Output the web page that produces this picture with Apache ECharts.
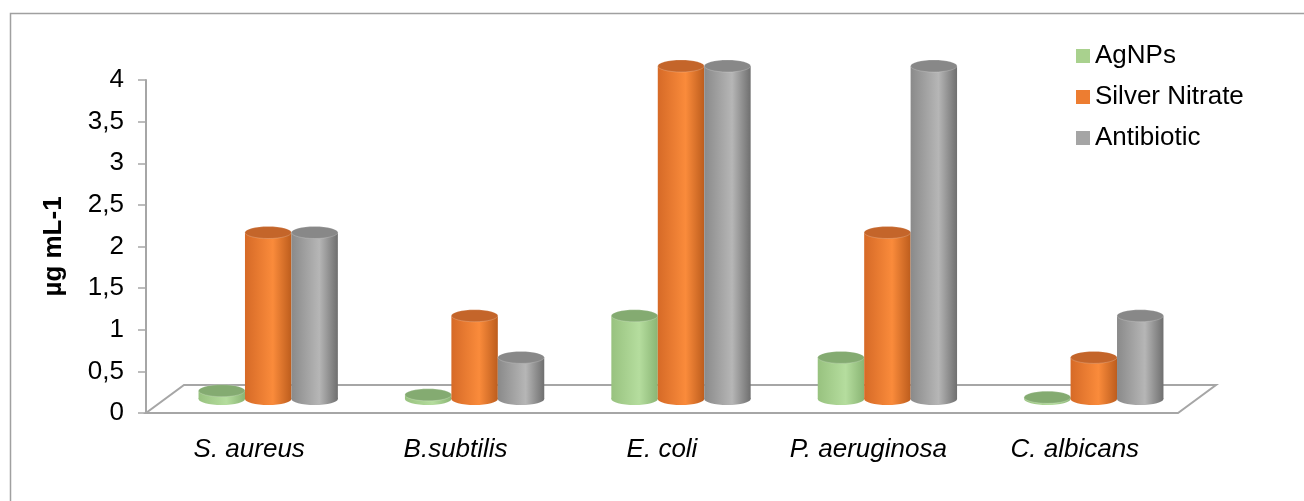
<!DOCTYPE html>
<html>
<head>
<meta charset="utf-8">
<title>MIC values</title>
<script src="https://cdn.jsdelivr.net/npm/echarts@6/dist/echarts.min.js"></script>
<style>
  html, body { margin: 0; padding: 0; background: #fff; }
  #chart { width: 1304px; height: 501px; }
</style>
</head>
<body>
<div id="chart"></div>
<script>
// Organisms tested
const categories = ['S. aureus', 'B.subtilis', 'E. coli', 'P. aeruginosa', 'C. albicans'];
// Values in µg mL-1
const agnps = [0.1, 0.05, 1, 0.5, 0.02];
const silverNitrate = [2, 1, 4, 2, 0.5];
const antibiotic = [2, 0.5, 4, 4, 1];
const seriesNames = ['AgNPs', 'Silver Nitrate', 'Antibiotic'];
// Value axis range
const yMin = 0;
const yMax = 4;
const yStep = 0.5;

const FONT = '"Liberation Sans", Arial, sans-serif';
const DEPTH_X = 38;      // floor depth offset, horizontal
const DEPTH_Y = 28;      // floor depth offset, vertical
const BAR_RATIO = 0.225; // cylinder width relative to category band
const CAP_RY = 6;        // vertical radius of cylinder caps

// Shading per series: [left edge, highlight, right edge, top cap]
const shades = [
  ['#98c27f', '#b5dd9e', '#8ab574', '#84ab71'],
  ['#d66a27', '#fa8b3b', '#bd5d1d', '#c4652a'],
  ['#8a8a8a', '#b6b6b6', '#6f6f6f', '#888888']
];
const legendColors = ['#a9d18e', '#ed7d31', '#a5a5a5'];

function bodyGradient(s) {
  const c = shades[s];
  return new echarts.graphic.LinearGradient(0, 0, 1, 0, [
    { offset: 0, color: c[0] },
    { offset: 0.6, color: c[1] },
    { offset: 1, color: c[2] }
  ]);
}

function cylinderRenderer(s) {
  return function (params, api) {
    const cat = api.value(0);
    const val = api.value(1);
    const top = api.coord([cat, val]);
    const base = api.coord([cat, 0]);
    const band = api.size([1, 0])[0];
    const bw = band * BAR_RATIO;
    const cx = top[0] + (s - 1) * bw;
    const rx = bw / 2;
    const fill = bodyGradient(s);
    return {
      type: 'group',
      children: [
        {
          type: 'rect',
          shape: { x: cx - rx, y: top[1], width: bw, height: base[1] - top[1] },
          style: { fill: fill }
        },
        {
          type: 'ellipse',
          shape: { cx: cx, cy: base[1], rx: rx, ry: CAP_RY },
          style: { fill: fill }
        },
        {
          type: 'ellipse',
          shape: { cx: cx, cy: top[1], rx: rx, ry: CAP_RY },
          style: { fill: shades[s][3], stroke: 'rgba(255,255,255,0.25)', lineWidth: 0.8 }
        }
      ]
    };
  };
}

function floorRenderer(params, api) {
  const cs = params.coordSys;
  const x0 = cs.x, x1 = cs.x + cs.width, yb = cs.y + cs.height;
  return {
    type: 'polygon',
    shape: {
      points: [
        [x0, yb], [x1, yb],
        [x1 + DEPTH_X, yb - DEPTH_Y], [x0 + DEPTH_X, yb - DEPTH_Y]
      ]
    },
    style: { fill: '#ffffff', stroke: '#a6a6a6', lineWidth: 2 }
  };
}

const valueSets = [agnps, silverNitrate, antibiotic];

const chart = echarts.init(document.getElementById('chart'), null, { renderer: 'canvas' });

const gridLeft = 146, gridTop = 80, gridW = 1032, gridH = 333;

chart.setOption({
  animation: false,
  backgroundColor: '#ffffff',
  textStyle: { fontFamily: FONT },
  graphic: [
    {
      type: 'rect',
      left: 8, top: 11,
      shape: { width: 1400, height: 600 },
      style: { fill: 'none', stroke: '#a0a0a0', lineWidth: 1.5 },
      silent: true, z: -10
    }
  ],
  legend: {
    data: seriesNames,
    orient: 'vertical',
    left: 1076,
    top: 43,
    icon: 'rect',
    itemWidth: 14,
    itemHeight: 14,
    itemGap: 15,
    padding: 0,
    textStyle: { fontSize: 26, color: '#000', fontFamily: FONT }
  },
  grid: [
    { left: gridLeft, top: gridTop, width: gridW, height: gridH },
    { left: gridLeft + DEPTH_X / 2, top: gridTop - DEPTH_Y / 2, width: gridW, height: gridH }
  ],
  xAxis: [
    {
      gridIndex: 0,
      type: 'category',
      data: categories,
      axisLine: { show: false },
      axisTick: { show: false },
      axisLabel: {
        margin: 24,
        fontSize: 26,
        fontStyle: 'italic',
        color: '#000',
        fontFamily: FONT
      }
    },
    { gridIndex: 1, type: 'category', data: categories, show: false }
  ],
  yAxis: [
    {
      gridIndex: 0,
      type: 'value',
      min: yMin,
      max: yMax,
      interval: yStep,
      name: 'µg mL-1',
      nameLocation: 'middle',
      nameGap: 79,
      nameRotate: 90,
      nameTextStyle: { fontSize: 26, fontWeight: 'bold', color: '#000', fontFamily: FONT },
      axisLine: { show: true, lineStyle: { color: '#a6a6a6', width: 2 } },
      axisTick: { show: true, length: 8, lineStyle: { color: '#a6a6a6', width: 1.5 } },
      splitLine: { show: false },
      axisLabel: {
        margin: 22,
        fontSize: 26,
        color: '#000',
        fontFamily: FONT,
        padding: [8, 0, 0, 0],
        formatter: function (v) { return String(v).replace('.', ','); }
      }
    },
    { gridIndex: 1, type: 'value', min: yMin, max: yMax, interval: yStep, show: false }
  ],
  series: [
    {
      type: 'custom',
      xAxisIndex: 0,
      yAxisIndex: 0,
      silent: true,
      z: 1,
      data: [[0, 0]],
      renderItem: floorRenderer
    }
  ].concat(valueSets.map(function (vals, s) {
    return {
      type: 'custom',
      name: seriesNames[s],
      xAxisIndex: 1,
      yAxisIndex: 1,
      z: 2 + s,
      itemStyle: { color: legendColors[s] },
      encode: { x: 0, y: 1 },
      data: vals.map(function (v, i) { return [i, v]; }),
      renderItem: cylinderRenderer(s)
    };
  }))
});
</script>
</body>
</html>
